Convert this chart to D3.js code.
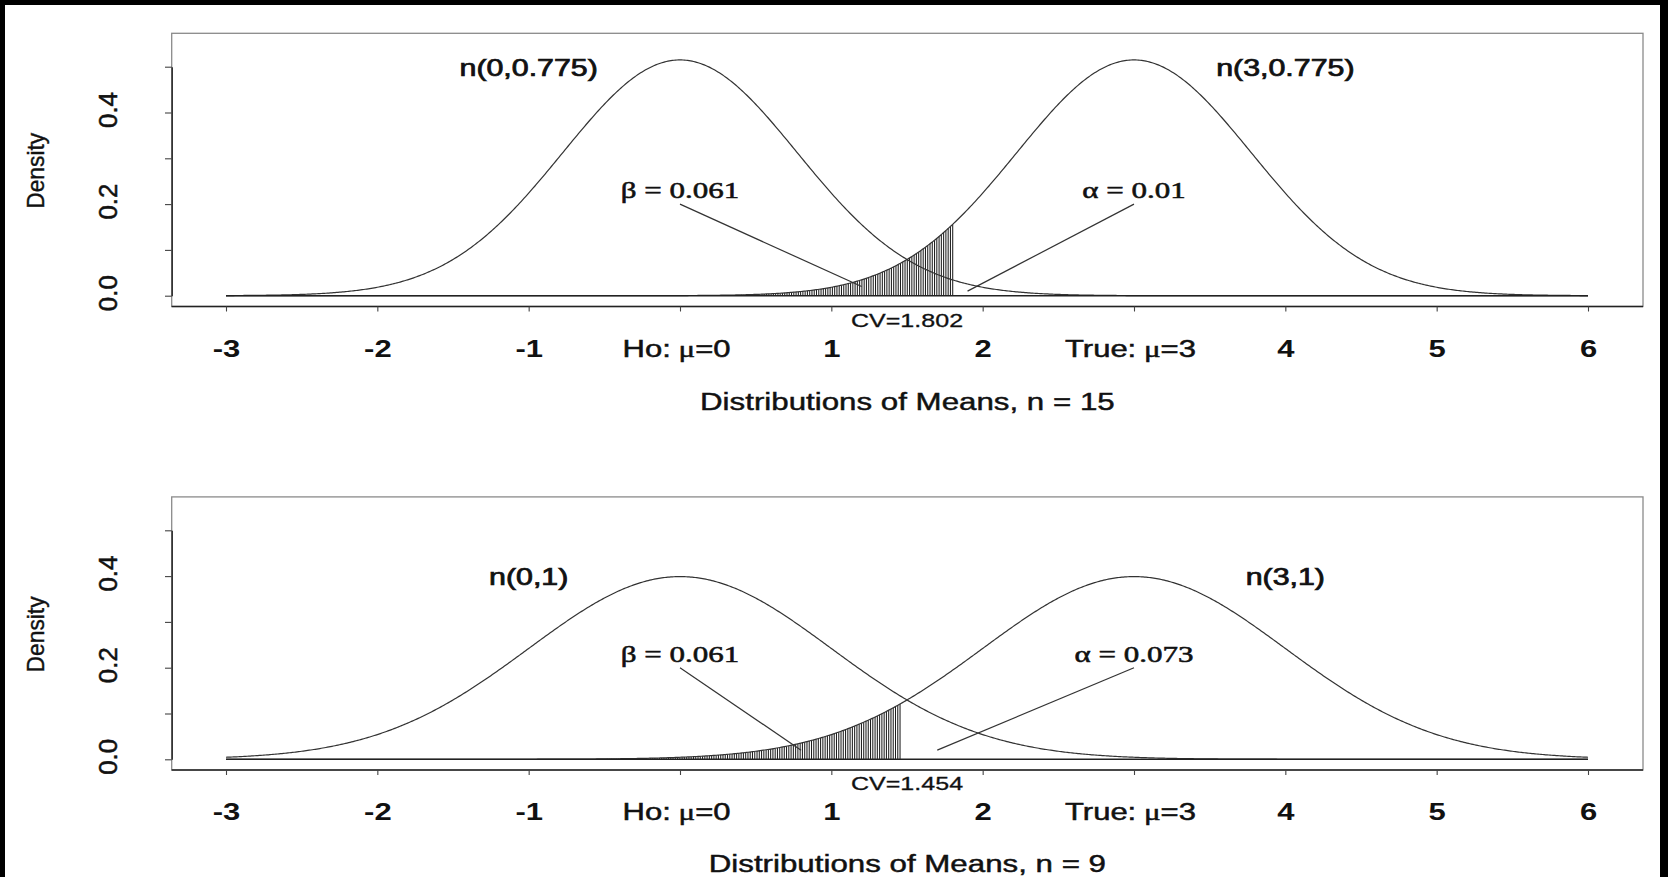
<!DOCTYPE html>
<html><head><meta charset="utf-8">
<script src="https://cdn.jsdelivr.net/npm/d3@7"></script>
<style>html,body{margin:0;padding:0;background:#000;} svg{display:block}</style>
</head><body>
<svg id="chart" width="1668" height="877"></svg>
<script>
// ---------- data ----------
const xTickValues = [-3, -2, -1, 0, 1, 2, 3, 4, 5, 6];
const xTickLabels = ["-3", "-2", "-1", "Ho: μ=0", "1", "2", "True: μ=3", "4", "5", "6"];
const yTickValues = [0, 0.1, 0.2, 0.3, 0.4, 0.5];
const yTickLabels = ["0.0", "", "0.2", "", "0.4", ""];
const sampleSizes = [15, 9];
const nullMeans = [0, 0];
const trueMeans = [3, 3];
const standardErrors = [0.775, 1];
const criticalValues = [1.802, 1.454];
const alphaValues = ["0.01", "0.073"];
const betaValues = ["0.061", "0.061"];
const nullLabels = ["n(0,0.775)", "n(0,1)"];
const trueLabels = ["n(3,0.775)", "n(3,1)"];
const xDomain = [-3, 6];
const yAxisTitle = "Density";
const titlePrefix = "Distributions of Means, n = ";

// ---------- layout (pixels / annotation anchors) ----------
const W = 1668, H = 877;
const SX = 1.32; // horizontal stretch of the original's horizontal text
const panels = [
  { boxTop: 33.3, boxBottom: 306.5, y0: 295.7, distLabelY: 0.5, titleY: 410,
    betaEnd: [1.2, 0.02], alphaEnd: [1.9, 0.01] },
  { boxTop: 496.9, boxBottom: 770, y0: 759.3, distLabelY: 0.4, titleY: 871.5,
    betaEnd: [0.8, 0.02], alphaEnd: [1.7, 0.02] }
];
const plotLeft = 171.7, plotRight = 1643;
const sansFont = "'Liberation Sans', Arial, Helvetica, sans-serif";
const serifFont = "'Liberation Serif', 'Times New Roman', serif";
const ink = "#111";
const lineCol = "#333";

const svg = d3.select("#chart");
svg.append("rect").attr("x", 0).attr("y", 0).attr("width", W).attr("height", H).attr("fill", "#000");
svg.append("rect").attr("x", 5).attr("y", 5).attr("width", W - 13).attr("height", H - 5).attr("fill", "#fff");

const x = d3.scaleLinear().domain(xDomain).range([226, 1588]);
const dnorm = (v, m, s) => Math.exp(-0.5 * ((v - m) / s) ** 2) / (s * Math.sqrt(2 * Math.PI));
const grid = d3.range(xDomain[0], xDomain[1] + 1e-9, 0.01);

function heavy(sel, w) {
  return sel.attr("stroke", ink).attr("stroke-width", w).attr("paint-order", "stroke");
}
function stext(g, str, px, py, size, opts = {}) {
  const t = g.append("text")
    .attr("transform", `translate(${px},${py}) scale(${SX},1)`)
    .attr("text-anchor", "middle")
    .style("font-family", opts.family || sansFont)
    .style("font-weight", opts.weight || "normal")
    .style("font-size", size + "px")
    .attr("fill", ink)
    .text(str);
  return heavy(t, opts.stroke == null ? 0.35 : opts.stroke);
}

panels.forEach((p, i) => {
  const g = svg.append("g");
  const y = d3.scaleLinear().domain([0, 0.5]).range([p.y0, p.y0 - 229]);
  const sd = standardErrors[i], cv = criticalValues[i];

  // hatched beta region under the true distribution, left of CV
  const hatchXs = d3.range(cv, xDomain[0], -0.015);
  g.append("g").selectAll("line").data(hatchXs).join("line")
    .attr("x1", d => x(d)).attr("x2", d => x(d))
    .attr("y1", y(0)).attr("y2", d => y(dnorm(d, trueMeans[i], sd)))
    .attr("stroke", "#1e1e1e").attr("stroke-width", 1.05);

  // curves
  const line = d3.line().x(d => x(d[0])).y(d => y(d[1]));
  [nullMeans[i], trueMeans[i]].forEach(m => {
    g.append("path").datum(grid.map(v => [v, dnorm(v, m, sd)]))
      .attr("d", line).attr("fill", "none").attr("stroke", lineCol).attr("stroke-width", 1.2);
  });
  // zero line
  g.append("line").attr("x1", x(xDomain[0])).attr("x2", x(xDomain[1]))
    .attr("y1", y(0)).attr("y2", y(0)).attr("stroke", "#222").attr("stroke-width", 1.4);

  // pointer lines
  g.append("line").attr("x1", x(0)).attr("y1", y(0.2)).attr("x2", x(p.betaEnd[0])).attr("y2", y(p.betaEnd[1]))
    .attr("stroke", lineCol).attr("stroke-width", 1.2);
  g.append("line").attr("x1", x(3)).attr("y1", y(0.2)).attr("x2", x(p.alphaEnd[0])).attr("y2", y(p.alphaEnd[1]))
    .attr("stroke", lineCol).attr("stroke-width", 1.2);

  // box
  g.append("rect").attr("x", plotLeft).attr("y", p.boxTop)
    .attr("width", plotRight - plotLeft).attr("height", p.boxBottom - p.boxTop)
    .attr("fill", "none").attr("stroke", "#8a8a8a").attr("stroke-width", 1.3);

  // x axis
  const xAxis = d3.axisBottom(x).tickValues(xTickValues).tickSize(5).tickSizeOuter(0)
    .tickFormat((d, k) => xTickLabels[k]);
  const xa = g.append("g").attr("transform", `translate(0,${p.boxBottom})`).call(xAxis);
  xa.attr("font-size", null).attr("font-family", null);
  xa.select(".domain").remove();
  xa.insert("line", ":first-child").attr("x1", plotLeft).attr("x2", plotRight).attr("y1", 0).attr("y2", 0)
    .attr("stroke", "#222").attr("stroke-width", 1.5);
  xa.selectAll(".tick line").attr("stroke", "#444").attr("stroke-width", 1.1);
  xa.selectAll(".tick text")
    .attr("y", 50.5).attr("dy", null)
    .attr("transform", `scale(${SX},1)`)
    .attr("fill", ink)
    .style("font-family", sansFont).style("font-weight", "bold").style("font-size", "23.5px")
    .each(function (d) {
      const t = d3.select(this);
      const lab = xTickLabels[xTickValues.indexOf(d)];
      if (lab.includes("μ")) {
        const [pre, post] = lab.split("μ");
        t.text(null).style("font-weight", "normal").style("font-size", "23.5px")
          .attr("transform", `translate(-4,0) scale(${SX},1)`);
        heavy(t, 0.5);
        t.append("tspan").text(pre.trim());
        t.append("tspan").style("font-family", serifFont).text(" μ");
        t.append("tspan").text(post);
      }
    });

  // y axis
  const yAxis = d3.axisLeft(y).tickValues(yTickValues).tickSize(6.7).tickSizeOuter(0)
    .tickFormat((d, k) => yTickLabels[k]);
  const ya = g.append("g").attr("transform", `translate(${plotLeft},0)`).call(yAxis);
  ya.attr("font-size", null).attr("font-family", null);
  ya.select(".domain").attr("stroke", "#222").attr("stroke-width", 1.4);
  ya.selectAll(".tick line").attr("stroke", "#444").attr("stroke-width", 1.1);
  ya.selectAll(".tick text")
    .attr("x", 3).attr("y", -54.5).attr("dy", null)
    .attr("transform", "rotate(-90)")
    .attr("text-anchor", "middle")
    .attr("fill", ink)
    .style("font-family", sansFont).style("font-size", "25px")
    .each(function () {
      if (this.textContent) heavy(d3.select(this).attr("textLength", 36).attr("lengthAdjust", "spacingAndGlyphs"), 0.5);
    });

  // y title
  heavy(g.append("text").attr("transform", `translate(44,${p.y0 - 124.9}) rotate(-90)`)
    .attr("text-anchor", "middle").attr("fill", ink)
    .style("font-family", sansFont).style("font-size", "24.5px")
    .attr("textLength", 76).attr("lengthAdjust", "spacingAndGlyphs")
    .text(yAxisTitle), 0.4);

  // distribution labels
  stext(g, nullLabels[i], x(-1), y(p.distLabelY) + 9, 23, { stroke: 0.75 });
  stext(g, trueLabels[i], x(4), y(p.distLabelY) + 9, 23, { stroke: 0.75 });

  // beta / alpha labels
  stext(g, "β = " + betaValues[i], x(0), y(0.23) + 8, 23.5, { family: serifFont, stroke: 0.55 });
  stext(g, "α = " + alphaValues[i], x(3), y(0.23) + 8, 23.5, { family: serifFont, stroke: 0.55 });

  // CV label
  stext(g, "CV=" + cv.toFixed(3), x(1.5), p.boxBottom + 20.2, 19, { stroke: 0.3 });

  // panel title
  stext(g, titlePrefix + sampleSizes[i], (plotLeft + plotRight) / 2, p.titleY, 23.7, { stroke: 0.45 });
});
</script>
</body></html>
